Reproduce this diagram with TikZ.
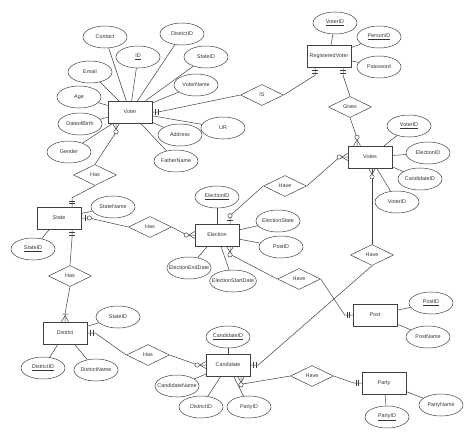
\documentclass[tikz,border=0pt]{standalone}
\usepackage{fontspec}
\setmainfont{Liberation Sans}
\usetikzlibrary{shapes.geometric}
\usetikzlibrary{decorations.markings}

\tikzset{
    mone/.style={postaction={decorate,decoration={markings,mark=at position 0.999 with
        {\draw (-3pt,-3pt) -- (-3pt,3pt) (-5.5pt,-3pt) -- (-5.5pt,3pt);}}}},
    zone/.style={postaction={decorate,decoration={markings,mark=at position 0.999 with
        {\draw (-3.5pt,-3pt) -- (-3.5pt,3pt); \draw[fill=white] (-8pt,0pt) circle (2.2pt);}}}},
    zmany/.style={postaction={decorate,decoration={markings,mark=at position 0.999 with
        {\draw (0pt,-3.5pt) -- (-6pt,0pt) -- (0pt,3.5pt); \draw[fill=white] (-8.5pt,0pt) circle (2.2pt);}}}},
    omany/.style={postaction={decorate,decoration={markings,mark=at position 0.999 with
        {\draw (0pt,-3.5pt) -- (-6pt,0pt) -- (0pt,3.5pt) (-7.5pt,-3pt) -- (-7.5pt,3pt);}}}}
}

\begin{document}
\begin{tikzpicture}[x=1pt, y=-1pt, line width=0.5pt, draw=black!75,
        every node/.style={font=\fontsize{5.4}{6}\selectfont, text=black!80},
        entity/.style={draw=black!75, rectangle, minimum width=44pt, minimum height=22pt, inner sep=0pt},
        attr/.style={draw=black!75, ellipse, minimum width=44pt, minimum height=22pt, inner xsep=-4.5pt, inner ysep=0pt},
        rel/.style={draw=black!75, diamond, minimum width=43pt, minimum height=21pt, inner sep=0pt}]
    \useasboundingbox (0,0) rectangle (474,439);

    % entities
    \node[entity] (voter) at (130,112) {Voter};
    \node[entity] (regvoter) at (329,56) {RegisteredVoter};
    \node[entity] (votes) at (370,157) {Votes};
    \node[entity] (state) at (59,218) {State};
    \node[entity] (election) at (217,235) {Election};
    \node[entity] (post) at (375,315) {Post};
    \node[entity] (district) at (65,333) {District};
    \node[entity] (candidate) at (228,365) {Candidate};
    \node[entity] (party) at (384,383) {Party};

    % relationships
    \node[rel] (hasvs) at (95,175) {Has};
    \node[rel] (is) at (262,95) {IS};
    \node[rel] (gives) at (350,107) {Gives};
    \node[rel] (havevotes) at (285,186) {Have};
    \node[rel] (hasse) at (150,227) {Has};
    \node[rel] (hassd) at (70,276) {Has};
    \node[rel] (hasdc) at (148,355) {Has};
    \node[rel] (havepost) at (299,279) {Have};
    \node[rel] (havecand) at (372,255) {Have};
    \node[rel] (haveparty) at (312,376) {Have};

    % attributes of Voter
    \node[attr] (contact) at (105,37) {Contact};
    \node[attr] (vid) at (138,57) {\underline{ID}};
    \node[attr] (vdistrict) at (182,34) {DistrictID};
    \node[attr] (vstate) at (206,57) {StateID};
    \node[attr] (vname) at (196,85) {VoterName};
    \node[attr] (email) at (90,72) {Email};
    \node[attr] (age) at (79,97) {Age};
    \node[attr] (dob) at (80,124) {DateofBirth};
    \node[attr] (gender) at (69,152) {Gender};
    \node[attr] (address) at (180,135) {Address};
    \node[attr] (ur) at (223,128) {UR};
    \node[attr] (fname) at (176,161) {FatherName};
    % attributes of RegisteredVoter
    \node[attr] (rvid) at (335,23) {\underline{VoterID}};
    \node[attr] (rpid) at (379,37) {\underline{PersonID}};
    \node[attr] (rpass) at (379,67) {Password};
    % attributes of Votes
    \node[attr] (vtid) at (409,126) {\underline{VoterID}};
    \node[attr] (vtelection) at (428,153) {ElectionID};
    \node[attr] (vtcand) at (420,179) {CandidateID};
    \node[attr] (vtvoter) at (397,202) {VoterID};
    % attributes of State
    \node[attr] (sname) at (113,207) {StateName};
    \node[attr] (sid) at (33,249) {\underline{StateID}};
    % attributes of Election
    \node[attr] (eid) at (217,197) {\underline{ElectionID}};
    \node[attr] (estate) at (278,221) {ElectionState};
    \node[attr] (epost) at (281,247) {PostID};
    \node[attr] (eend) at (189,268) {ElectionEndDate};
    \node[attr] (estart) at (233,281) {ElectionStartDate};
    % attributes of Post
    \node[attr] (pid) at (431,303) {\underline{PostID}};
    \node[attr] (pname) at (428,337) {PostName};
    % attributes of District
    \node[attr] (dstate) at (118,317) {StateID};
    \node[attr] (did) at (43,368) {\underline{DistrictID}};
    \node[attr] (dname) at (96,370) {DistrictName};
    % attributes of Candidate
    \node[attr] (cid) at (228,337) {\underline{CandidateID}};
    \node[attr] (cname) at (177,386) {CandidateName};
    \node[attr] (cdistrict) at (201,407) {DistrictID};
    \node[attr] (cparty) at (249,407) {PartyID};
    % attributes of Party
    \node[attr] (paid) at (387,417) {\underline{PartyID}};
    \node[attr] (paname) at (441,405) {PartyName};

    % attribute links
    \foreach \a in {contact,vid,vdistrict,vstate,vname,email,age,dob,gender,address,ur,fname}
        \draw (\a) -- (voter);
    \foreach \a in {rvid,rpid,rpass}
        \draw (\a) -- (regvoter);
    \foreach \a in {vtid,vtelection,vtcand,vtvoter}
        \draw (\a) -- (votes);
    \foreach \a in {sname,sid}
        \draw (\a) -- (state);
    \foreach \a in {eid,estate,epost,eend,estart}
        \draw (\a) -- (election);
    \foreach \a in {pid,pname}
        \draw (\a) -- (post);
    \foreach \a in {dstate,did,dname}
        \draw (\a) -- (district);
    \foreach \a in {cid,cname,cdistrict,cparty}
        \draw (\a) -- (candidate);
    \foreach \a in {paid,paname}
        \draw (\a) -- (party);

    % relationship links
    \draw[mone] (is.west) -- ([shift={(6,0)}]voter.east) -- (voter.east);
    \draw[mone] (is.east) -- ([shift={(-14,8)}]regvoter.south) -- ([shift={(-14,0)}]regvoter.south);
    \draw[mone] (gives.north) -- ([shift={(14,8)}]regvoter.south) -- ([shift={(14,0)}]regvoter.south);
    \draw[zmany] (gives.south) -- ([shift={(-13,-8)}]votes.north) -- ([shift={(-13,0)}]votes.north);
    \draw[zmany] (havevotes.east) -- ([shift={(-8,0)}]votes.west) -- (votes.west);
    \draw[zone] (havevotes.west) -- ([shift={(13,-8)}]election.north) -- ([shift={(13,0)}]election.north);
    \draw[zmany] (havecand.north) -- (havecand.north |- votes.south);
    \draw[mone] (havecand.south) -- ([shift={(8,0)}]candidate.east) -- (candidate.east);
    \draw[zmany] (havepost.west) -- ([shift={(13,8)}]election.south) -- ([shift={(13,0)}]election.south);
    \draw[mone] (havepost.east) -- ([shift={(-8,0)}]post.west) -- (post.west);
    \draw[zmany] (hasvs.north) -- ([shift={(-14,9)}]voter.south) -- ([shift={(-14,0)}]voter.south);
    \draw[mone] (hasvs.south) -- ([shift={(13,-9)}]state.north) -- ([shift={(13,0)}]state.north);
    \draw[zone] (hasse.west) -- ([shift={(8,0)}]state.east) -- (state.east);
    \draw[zmany] (hasse.east) -- ([shift={(-8,0)}]election.west) -- (election.west);
    \draw[mone] (hassd.north) -- ([shift={(13,9)}]state.south) -- ([shift={(13,0)}]state.south);
    \draw[omany] (hassd.south) -- ([shift={(0,-8)}]district.north) -- (district.north);
    \draw[mone] (hasdc.west) -- ([shift={(8,0)}]district.east) -- (district.east);
    \draw[zmany] (hasdc.east) -- ([shift={(-8,0)}]candidate.west) -- (candidate.west);
    \draw[zmany] (haveparty.west) -- ([shift={(13,8)}]candidate.south) -- ([shift={(13,0)}]candidate.south);
    \draw[mone] (haveparty.east) -- ([shift={(-8,0)}]party.west) -- (party.west);
\end{tikzpicture}
\end{document}
